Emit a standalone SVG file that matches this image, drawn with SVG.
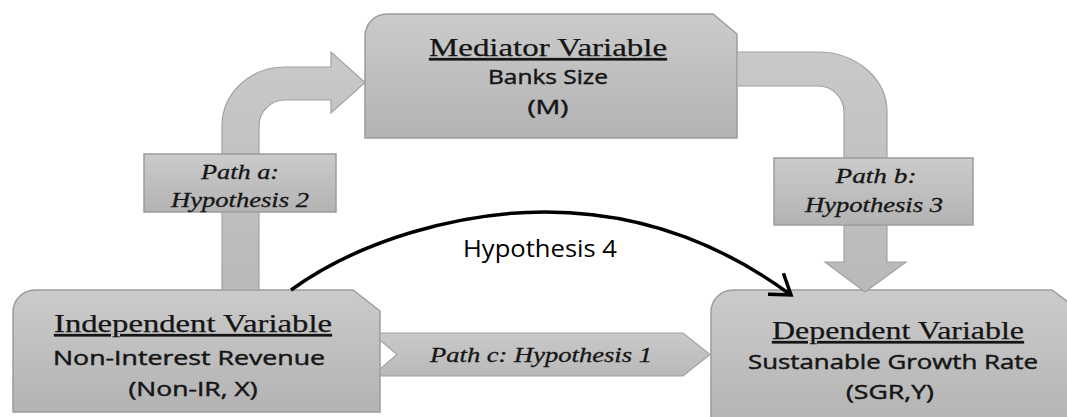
<svg xmlns="http://www.w3.org/2000/svg" width="1067" height="417" viewBox="0 0 1067 417">
  <defs>
    <linearGradient id="boxFill" x1="0" y1="0" x2="0" y2="1">
      <stop offset="0" stop-color="#cbcbcb"/>
      <stop offset="1" stop-color="#b3b3b3"/>
    </linearGradient>
    <linearGradient id="arrowFill" x1="0" y1="0" x2="0" y2="1">
      <stop offset="0" stop-color="#c9c9c9"/>
      <stop offset="1" stop-color="#b9b9b9"/>
    </linearGradient>
    <marker id="openHead" markerUnits="userSpaceOnUse" markerWidth="32" markerHeight="32" viewBox="0 0 32 32" refX="27" refY="16" orient="auto">
      <path d="M8,3 L27,16 L8,29" fill="none" stroke="#000" stroke-width="3.5" stroke-linejoin="miter"/>
    </marker>
    <style>
      .box { fill: url(#boxFill); stroke: #9c9c9c; stroke-width: 1.5; }
      .arrow { fill: url(#arrowFill); stroke: #a2a2a2; stroke-width: 1.2; }
      .head { font-family: "Liberation Serif", serif; font-size: 25px; fill: #151515; stroke: #151515; stroke-width: 0.25; text-decoration: underline; text-anchor: middle; }
      .sub { font-family: "Open Sans", "Liberation Sans", sans-serif; font-size: 20px; fill: #151515; stroke: #151515; stroke-width: 0.45; text-anchor: middle; }
      .lbl { font-family: "Liberation Serif", serif; font-style: italic; font-size: 21px; fill: #151515; stroke: #151515; stroke-width: 0.3; text-anchor: middle; }
      .h4 { font-family: "Open Sans", "Liberation Sans", sans-serif; font-size: 23px; fill: #000; text-anchor: middle; }
    </style>
  </defs>

  <rect width="1067" height="417" fill="#ffffff"/>

  <!-- Mediator node -->
  <g id="mediator">
    <path class="box" d="M365,36 A22,22 0 0 1 387,14 L713,14 L737,34 L737,138 L365,138 Z"/>
    <text class="head" x="548" y="56" textLength="238" lengthAdjust="spacingAndGlyphs">Mediator Variable</text>
    <text class="sub" x="548" y="84" textLength="120" lengthAdjust="spacingAndGlyphs">Banks Size</text>
    <text class="sub" x="548" y="114" textLength="41" lengthAdjust="spacingAndGlyphs">(M)</text>
  </g>

  <!-- Independent node -->
  <g id="independent">
    <path class="box" d="M13,312 A22,22 0 0 1 35,290 L353,290 L380,311 L380,412 L13,412 Z"/>
    <text class="head" x="193" y="332" textLength="278" lengthAdjust="spacingAndGlyphs">Independent Variable</text>
    <text class="sub" x="189" y="365" textLength="272" lengthAdjust="spacingAndGlyphs">Non-Interest Revenue</text>
    <text class="sub" x="193" y="396" textLength="129" lengthAdjust="spacingAndGlyphs">(Non-IR, X)</text>
  </g>

  <!-- Dependent node -->
  <g id="dependent">
    <path class="box" d="M711,312 A22,22 0 0 1 733,290 L1052,290 L1080,311 L1080,430 L711,430 Z"/>
    <text class="head" x="898" y="339" textLength="252" lengthAdjust="spacingAndGlyphs">Dependent Variable</text>
    <text class="sub" x="893" y="369" textLength="290" lengthAdjust="spacingAndGlyphs">Sustanable Growth Rate</text>
    <text class="sub" x="890" y="399" textLength="88" lengthAdjust="spacingAndGlyphs">(SGR,Y)</text>
  </g>

  <!-- Connectors -->
  <g id="connectors">
    <!-- Path a: bent block arrow from X up to M -->
    <g id="path-a">
      <path class="arrow" d="M222,290 L222,126 A63,59 0 0 1 285,67 L331,67 L331,52 L365,82.5 L331,113 L331,100 L285,100 A26,26 0 0 0 259,126 L259,290 Z"/>
      <rect class="box" x="144" y="154" width="192" height="58"/>
      <text class="lbl" x="240" y="179" textLength="78" lengthAdjust="spacingAndGlyphs">Path a:</text>
      <text class="lbl" x="240" y="207" textLength="138" lengthAdjust="spacingAndGlyphs">Hypothesis 2</text>
    </g>

    <!-- Path b: bent block arrow from M down to Y -->
    <g id="path-b">
      <path class="arrow" d="M737,52 L818,52 A69,60 0 0 1 887,112 L887,262 L906,262 L865,292 L825,262 L844,262 L844,112 A26,26 0 0 0 818,86 L737,86 Z"/>
      <rect class="box" x="774" y="158" width="199" height="67"/>
      <text class="lbl" x="876" y="183" textLength="81" lengthAdjust="spacingAndGlyphs">Path b:</text>
      <text class="lbl" x="874" y="212" textLength="138" lengthAdjust="spacingAndGlyphs">Hypothesis 3</text>
    </g>

    <!-- Path c: chevron band from X to Y -->
    <g id="path-c">
      <path class="arrow" d="M380,333 L683,333 L710,354.5 L683,376 L380,376 L380,369 L397,354.5 L380,340 Z"/>
      <text class="lbl" x="541" y="362" textLength="222" lengthAdjust="spacingAndGlyphs">Path c: Hypothesis 1</text>
    </g>

    <!-- Hypothesis 4: direct curved link X to Y -->
    <g id="hypothesis-4">
      <path d="M291,290 C360,240 460,212 545,212 C650,212 730,250 791,295" fill="none" stroke="#000" stroke-width="3.5" marker-end="url(#openHead)"/>
      <text class="h4" x="540" y="257" textLength="154" lengthAdjust="spacingAndGlyphs">Hypothesis 4</text>
    </g>
  </g>
</svg>
